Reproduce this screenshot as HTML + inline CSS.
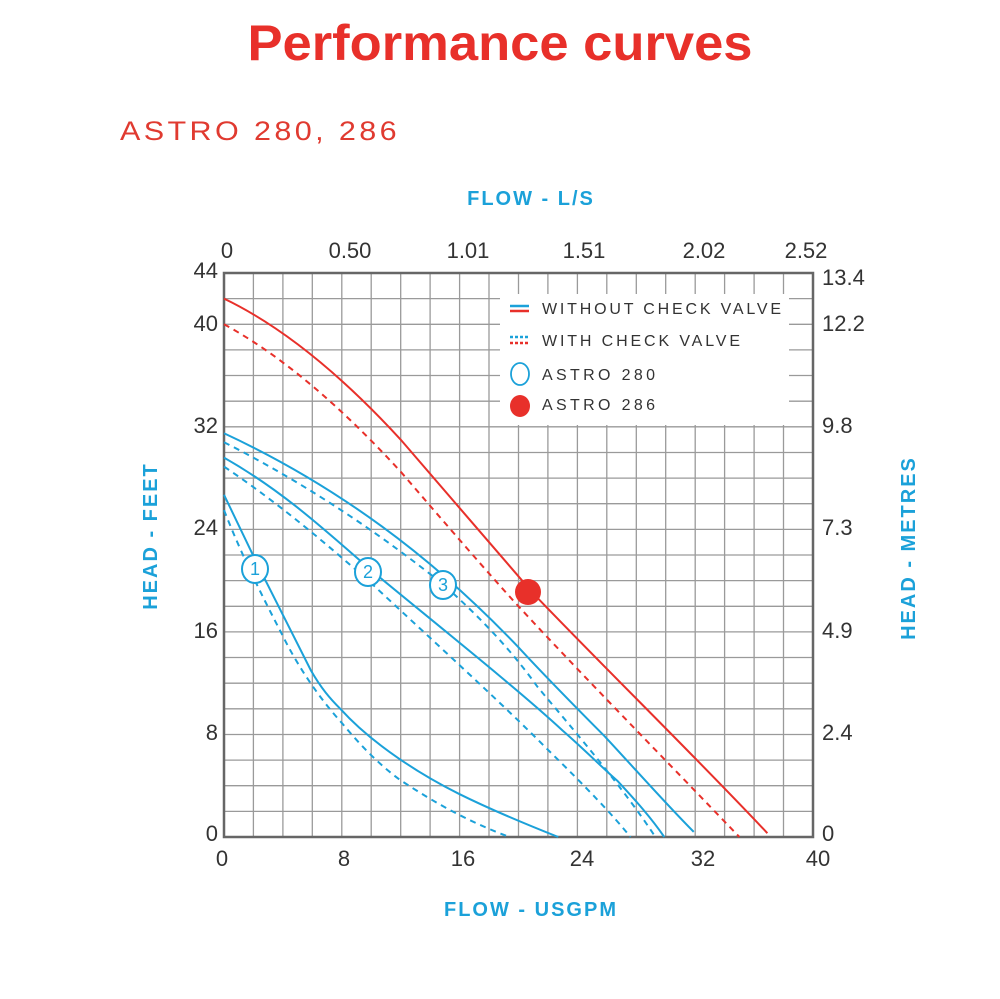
<!DOCTYPE html>
<html><head><meta charset="utf-8"><style>
body{margin:0;background:#fff;}
svg{display:block;font-family:"Liberation Sans",sans-serif;}
</style></head><body>
<svg width="1000" height="999" viewBox="0 0 1000 999" xmlns="http://www.w3.org/2000/svg">
<rect width="1000" height="999" fill="#fff"/>
<text x="500" y="60" text-anchor="middle" font-size="50" font-weight="bold" fill="#e8302a" textLength="505" lengthAdjust="spacingAndGlyphs">Performance curves</text>
<text x="120" y="140" font-size="27" fill="#e03a30" letter-spacing="3" textLength="280" lengthAdjust="spacingAndGlyphs">ASTRO 280, 286</text>
<text x="531" y="205" text-anchor="middle" font-size="20" font-weight="bold" fill="#1ba1d9" letter-spacing="2">FLOW - L/S</text>
<text x="531" y="916" text-anchor="middle" font-size="20" font-weight="bold" fill="#1ba1d9" letter-spacing="2">FLOW - USGPM</text>
<text transform="translate(157,536) rotate(-90)" text-anchor="middle" font-size="20" font-weight="bold" fill="#1ba1d9" letter-spacing="2">HEAD - FEET</text>
<text transform="translate(915,548) rotate(-90)" text-anchor="middle" font-size="20" font-weight="bold" fill="#1ba1d9" letter-spacing="2">HEAD - METRES</text>

<g stroke="#9a9a9a" stroke-width="1.3">
<line x1="224" y1="273" x2="224" y2="837"/><line x1="253.4" y1="273" x2="253.4" y2="837"/><line x1="282.9" y1="273" x2="282.9" y2="837"/><line x1="312.3" y1="273" x2="312.3" y2="837"/><line x1="341.8" y1="273" x2="341.8" y2="837"/><line x1="371.2" y1="273" x2="371.2" y2="837"/><line x1="400.7" y1="273" x2="400.7" y2="837"/><line x1="430.1" y1="273" x2="430.1" y2="837"/><line x1="459.6" y1="273" x2="459.6" y2="837"/><line x1="489" y1="273" x2="489" y2="837"/><line x1="518.5" y1="273" x2="518.5" y2="837"/><line x1="547.9" y1="273" x2="547.9" y2="837"/><line x1="577.4" y1="273" x2="577.4" y2="837"/><line x1="606.8" y1="273" x2="606.8" y2="837"/><line x1="636.3" y1="273" x2="636.3" y2="837"/><line x1="665.7" y1="273" x2="665.7" y2="837"/><line x1="695.2" y1="273" x2="695.2" y2="837"/><line x1="724.6" y1="273" x2="724.6" y2="837"/><line x1="754.1" y1="273" x2="754.1" y2="837"/><line x1="783.5" y1="273" x2="783.5" y2="837"/><line x1="813" y1="273" x2="813" y2="837"/>
<line x1="224" y1="298.6" x2="813" y2="298.6"/><line x1="224" y1="324.3" x2="813" y2="324.3"/><line x1="224" y1="349.9" x2="813" y2="349.9"/><line x1="224" y1="375.5" x2="813" y2="375.5"/><line x1="224" y1="401.2" x2="813" y2="401.2"/><line x1="224" y1="426.8" x2="813" y2="426.8"/><line x1="224" y1="452.5" x2="813" y2="452.5"/><line x1="224" y1="478.1" x2="813" y2="478.1"/><line x1="224" y1="503.7" x2="813" y2="503.7"/><line x1="224" y1="529.4" x2="813" y2="529.4"/><line x1="224" y1="555" x2="813" y2="555"/><line x1="224" y1="580.6" x2="813" y2="580.6"/><line x1="224" y1="606.3" x2="813" y2="606.3"/><line x1="224" y1="631.9" x2="813" y2="631.9"/><line x1="224" y1="657.5" x2="813" y2="657.5"/><line x1="224" y1="683.2" x2="813" y2="683.2"/><line x1="224" y1="708.8" x2="813" y2="708.8"/><line x1="224" y1="734.5" x2="813" y2="734.5"/><line x1="224" y1="760.1" x2="813" y2="760.1"/><line x1="224" y1="785.7" x2="813" y2="785.7"/><line x1="224" y1="811.4" x2="813" y2="811.4"/>
</g>
<rect x="224" y="273" width="589" height="564" fill="none" stroke="#666" stroke-width="2.5"/>

<rect x="500" y="294" width="289" height="131" fill="#fff"/>
<line x1="510" y1="306" x2="529" y2="306" stroke="#1ba1d9" stroke-width="2.5"/>
<line x1="510" y1="311" x2="529" y2="311" stroke="#e8302a" stroke-width="2.5"/>
<line x1="510" y1="337" x2="529" y2="337" stroke="#1ba1d9" stroke-width="2.5" stroke-dasharray="3 2"/>
<line x1="510" y1="343" x2="529" y2="343" stroke="#e8302a" stroke-width="2.5" stroke-dasharray="3 2"/>
<ellipse cx="520" cy="374" rx="9" ry="11" fill="none" stroke="#1ba1d9" stroke-width="1.8"/>
<ellipse cx="520" cy="406" rx="10" ry="11" fill="#e8302a"/>
<g font-size="16" fill="#333" letter-spacing="2" lengthAdjust="spacingAndGlyphs">
<text x="542" y="314" textLength="241">WITHOUT CHECK VALVE</text>
<text x="542" y="346" textLength="200">WITH CHECK VALVE</text>
<text x="542" y="380" textLength="115">ASTRO 280</text>
<text x="542" y="410" textLength="115">ASTRO 286</text>
</g>

<g font-size="22" fill="#333">
<text x="227" y="258" text-anchor="middle">0</text>
<text x="350" y="258" text-anchor="middle">0.50</text>
<text x="468" y="258" text-anchor="middle">1.01</text>
<text x="584" y="258" text-anchor="middle">1.51</text>
<text x="704" y="258" text-anchor="middle">2.02</text>
<text x="806" y="258" text-anchor="middle">2.52</text>
<text x="218" y="278" text-anchor="end">44</text>
<text x="218" y="331" text-anchor="end">40</text>
<text x="218" y="433" text-anchor="end">32</text>
<text x="218" y="535" text-anchor="end">24</text>
<text x="218" y="638" text-anchor="end">16</text>
<text x="218" y="740" text-anchor="end">8</text>
<text x="218" y="841" text-anchor="end">0</text>
<text x="822" y="285">13.4</text>
<text x="822" y="331">12.2</text>
<text x="822" y="433">9.8</text>
<text x="822" y="535">7.3</text>
<text x="822" y="638">4.9</text>
<text x="822" y="740">2.4</text>
<text x="822" y="841">0</text>
<text x="222" y="866" text-anchor="middle">0</text>
<text x="344" y="866" text-anchor="middle">8</text>
<text x="463" y="866" text-anchor="middle">16</text>
<text x="582" y="866" text-anchor="middle">24</text>
<text x="703" y="866" text-anchor="middle">32</text>
<text x="818" y="866" text-anchor="middle">40</text>
</g>

<g transform="translate(224,837) scale(14.725,-12.818)" fill="none">
<g stroke="#e8302a" stroke-width="2">
<path vector-effect="non-scaling-stroke" d="M0,42 C4,39.8 8,36 12,31 C15,27 18,23 21,19 C26,13 32,6.3 36.9,0.3"/>
<path vector-effect="non-scaling-stroke" stroke-dasharray="6 5" d="M0,40 C4,37.5 8,33.5 12,28.5 C15,24.5 18,20.5 20,18 C24,13 30,6 35,0"/>
</g>
<g stroke="#1ba1d9" stroke-width="2">
<path vector-effect="non-scaling-stroke" d="M0,31.5 C6,28.3 11,24.3 15,20.3 C17,18.3 18.5,16.6 20,14.8 C22,12.3 24,10 25.9,7.8 C28,5.2 30,2.6 31.9,0.4"/>
<path vector-effect="non-scaling-stroke" stroke-dasharray="6 5" d="M0,30.8 C6,27.3 11,23.3 15,19.6 C17.5,17 19.5,14.6 21.3,11.7 C24,8 27,4 29.3,0"/>
<path vector-effect="non-scaling-stroke" d="M0,29.6 C4,27 7,23.8 10,20.8 C14,17 20,11.5 23,8.3 C24.5,6.8 25.6,5.5 26.7,4.4 C28,2.8 29,1.5 29.9,0"/>
<path vector-effect="non-scaling-stroke" stroke-dasharray="6 5" d="M0,28.9 C4,25.8 7,22.8 10,19.8 C14,15.5 19,10.3 22,6.8 C24.5,4 26.5,1.6 27.6,0"/>
<path vector-effect="non-scaling-stroke" d="M0,26.7 C1,24.3 1.7,22.6 2.3,21.2 C3.6,18.2 4.8,15.5 5.9,13 C6.6,11.6 7.2,10.8 7.9,10 C9,8.6 10.5,7.2 11.9,6.1 C13.3,5 14.5,4.2 15.9,3.4 C18,2.2 20.5,1 22.7,0"/>
<path vector-effect="non-scaling-stroke" stroke-dasharray="6 5" d="M0,25.5 C1.2,22 2.5,19 3.9,15.9 C5,13.3 6.5,10.8 8,8.9 C9.3,7.1 10.5,5.7 11.9,4.5 C14.5,2.5 17,1 19.4,0"/>
</g>
</g>

<g fill="#fff" stroke="#1ba1d9" stroke-width="2">
<ellipse cx="255" cy="569" rx="13" ry="14"/>
<ellipse cx="368" cy="572" rx="13" ry="14"/>
<ellipse cx="443" cy="585" rx="13" ry="14"/>
</g>
<g font-size="18" fill="#1ba1d9" text-anchor="middle">
<text x="255" y="575">1</text>
<text x="368" y="578">2</text>
<text x="443" y="591">3</text>
</g>
<ellipse cx="528" cy="592" rx="13" ry="13" fill="#e8302a"/>
</svg>
</body></html>
